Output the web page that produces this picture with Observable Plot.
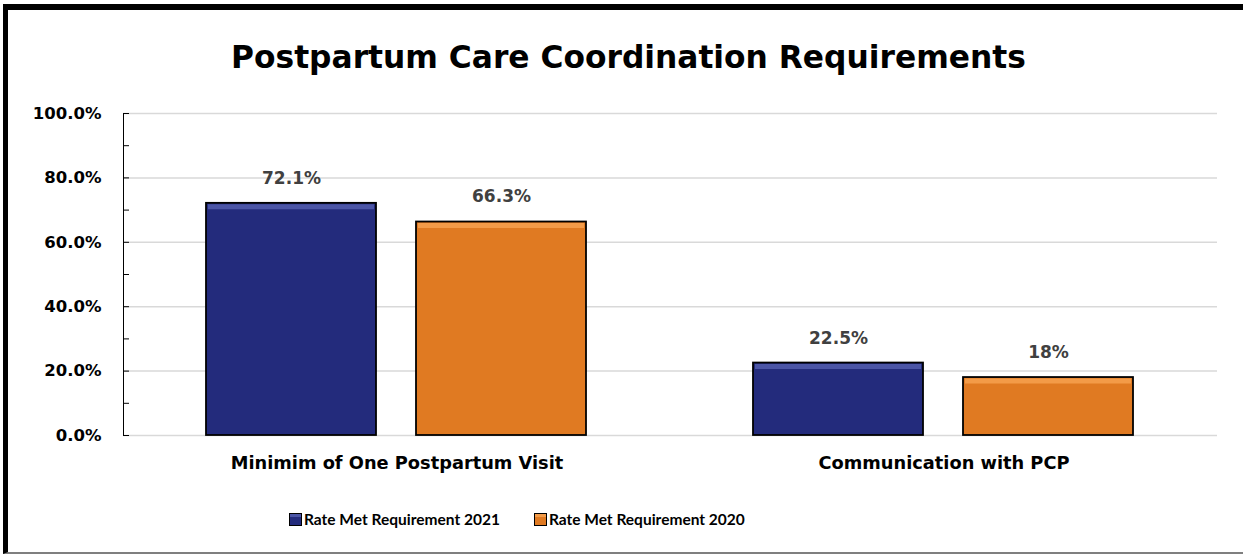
<!DOCTYPE html>
<html><head><meta charset="utf-8">
<script src="https://cdn.jsdelivr.net/npm/d3@7"></script>
<script src="https://cdn.jsdelivr.net/npm/@observablehq/plot@0.6"></script>
<style>
body{margin:0;background:#fff;font-family:Lato,"Open Sans",sans-serif;}
#wrap{position:relative;width:1243px;height:555px;overflow:hidden;background:#fff;}
#frame{position:absolute;left:3px;top:4px;width:1260px;height:550px;border-top:6px solid #000;border-left:5px solid #000;border-bottom:2px solid #7f7f7f;box-sizing:border-box;}
#title{position:absolute;left:0;width:1257px;top:36px;text-align:center;font-family:"DejaVu Sans",sans-serif;font-weight:700;font-size:31.3px;line-height:42px;color:#000;}
#chart{position:absolute;left:0;top:90px;}
#legend{position:absolute;top:509px;left:289px;display:flex;gap:34px;font-weight:700;font-size:15.5px;line-height:20px;color:#000;}
.item{display:flex;align-items:center;gap:2px;}
.sw{width:11px;height:11px;border:1px solid #000;}
</style></head>
<body>
<div id="wrap">
  <div id="frame"></div>
  <div id="title">Postpartum Care Coordination Requirements</div>
  <div id="chart"></div>
  <div id="legend"></div>
</div>
<script>
const categories = ["Minimim of One Postpartum Visit", "Communication with PCP"];
const series = ["Rate Met Requirement 2021", "Rate Met Requirement 2020"];
const values2021 = [0.721, 0.225];
const values2020 = [0.663, 0.18];
const labels2021 = ["72.1%", "22.5%"];
const labels2020 = ["66.3%", "18%"];
const yTicks = [0, 0.2, 0.4, 0.6, 0.8, 1.0];
const yMinorTicks = [0, 0.1, 0.2, 0.3, 0.4, 0.5, 0.6, 0.7, 0.8, 0.9, 1.0];
const colors = ["#232B7C", "#E07A22"];
const highlights = ["#4B55A6", "#F39B48"];

const data = categories.flatMap((c, i) => [
  {category: c, series: series[0], value: values2021[i], label: labels2021[i]},
  {category: c, series: series[1], value: values2020[i], label: labels2020[i]}
]);

const plot = Plot.plot({
  width: 1243, height: 400,
  marginLeft: 122, marginRight: 26, marginTop: 23, marginBottom: 55,
  style: {fontFamily: "'DejaVu Sans', sans-serif", background: "transparent", color: "#000"},
  fx: {domain: categories, padding: 0, label: null},
  x: {domain: series, axis: null, paddingInner: 0.19, paddingOuter: 0.395},
  y: {domain: [0, 1], label: null},
  color: {domain: series, range: colors},
  marks: [
    Plot.gridY(yTicks, {stroke: "#d9d9d9", strokeOpacity: 1, strokeWidth: 1.5}),
    Plot.barY(data, {fx: "category", x: "series", y: "value", fill: "series", stroke: "#000", strokeWidth: 1.8}),
    Plot.tickY(data, {fx: "category", x: "series", y: "value", stroke: d => highlights[series.indexOf(d.series)], strokeWidth: 5, dy: 3.5, insetLeft: 2, insetRight: 2}),
    Plot.text(data, {fx: "category", x: "series", y: "value", text: "label", dy: -25, fontSize: 17, fontWeight: 700, fill: "#404040"}),
    Plot.axisY(yMinorTicks, {anchor: "left", tickSize: 6, dx: 6, tickFormat: () => ""}),
    Plot.axisY(yTicks, {anchor: "left", tickSize: 0, tickPadding: 22, tickFormat: ".1%", fontSize: 16.5, fontWeight: 700}),
    Plot.frame({anchor: "left", facetAnchor: "left", stroke: "#000"}),
    Plot.axisFx({anchor: "bottom", tickSize: 0, tickPadding: 21, fontSize: 17.8, fontWeight: 700, label: null})
  ]
});
document.getElementById("chart").appendChild(plot);

const legend = document.getElementById("legend");
series.forEach((s, i) => {
  const item = document.createElement("div");
  item.className = "item";
  const sw = document.createElement("div");
  sw.className = "sw";
  sw.style.background = `linear-gradient(${highlights[i]} 0 25%, ${colors[i]} 25% 100%)`;
  const t = document.createElement("span");
  t.textContent = s;
  item.appendChild(sw); item.appendChild(t);
  legend.appendChild(item);
});
</script>
</body></html>
